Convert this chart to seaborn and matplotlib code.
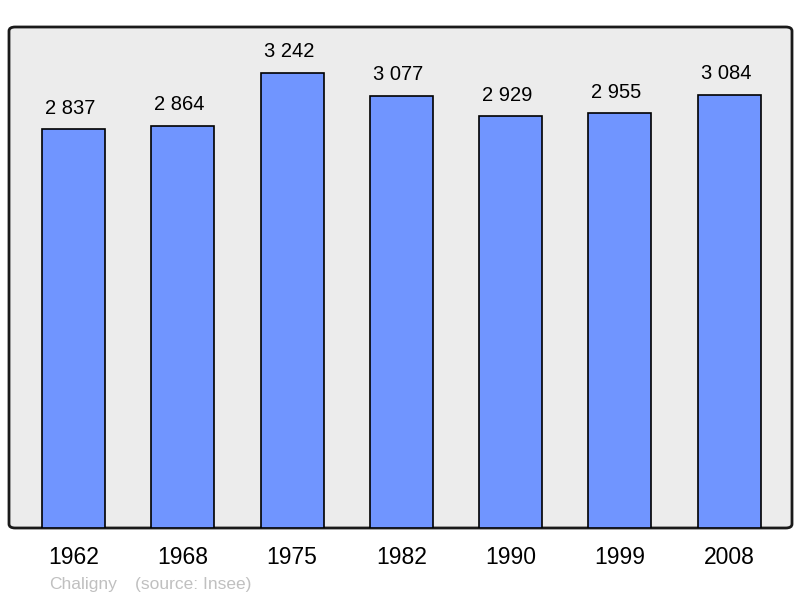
import matplotlib
matplotlib.use("Agg")
import matplotlib.pyplot as plt
from matplotlib.patches import FancyBboxPatch
import seaborn as sns
import pandas as pd

years = ["1962", "1968", "1975", "1982", "1990", "1999", "2008"]
population = [2837, 2864, 3242, 3077, 2929, 2955, 3084]
commune = "Chaligny"
source = "(source: Insee)"

df = pd.DataFrame({"year": years, "pop": population})

sns.set_style("white")
plt.rcParams['font.family'] = ['Liberation Sans', 'DejaVu Sans']

fig = plt.figure(figsize=(8.0, 5.98), dpi=100)
L, R, B, T = 9/800, 792/800, (598-528)/598, (598-27)/598
ax = fig.add_axes([L, B, R-L, T-B])
ax.set_facecolor("none")

# rounded background frame
frame = FancyBboxPatch((0, 0), 1, 1, boxstyle="round,pad=0,rounding_size=0.008",
                       transform=ax.transAxes, facecolor="#ececec",
                       edgecolor="#1a1a1a", linewidth=2, zorder=0, clip_on=False)
ax.add_patch(frame)

sns.barplot(data=df, x="year", y="pop", color="#7095ff", saturation=1,
            width=0.576, edgecolor="black", linewidth=1.2, ax=ax, zorder=2)

ax.set_xlim(-0.59, 6.575)
ax.set_ylim(0, 3566)
for s in ax.spines.values():
    s.set_visible(False)
ax.set_yticks([])
ax.set_xlabel("")
ax.set_ylabel("")
ax.tick_params(axis="x", length=0, labelsize=16.5, pad=13, colors="black")

for i, v in enumerate(population):
    ax.text(i - 0.03, v + 80, f"{v:,}".replace(",", " "), ha="center", va="bottom",
            fontsize=14.5, color="black", zorder=3)

fig.text(49/800, 1-584/598, commune, fontsize=12.5, color="#c0c0c0", va="center", ha="left")
fig.text(135/800, 1-584/598, source, fontsize=12.5, color="#c0c0c0", va="center", ha="left")

fig.savefig("out.png", dpi=100)
